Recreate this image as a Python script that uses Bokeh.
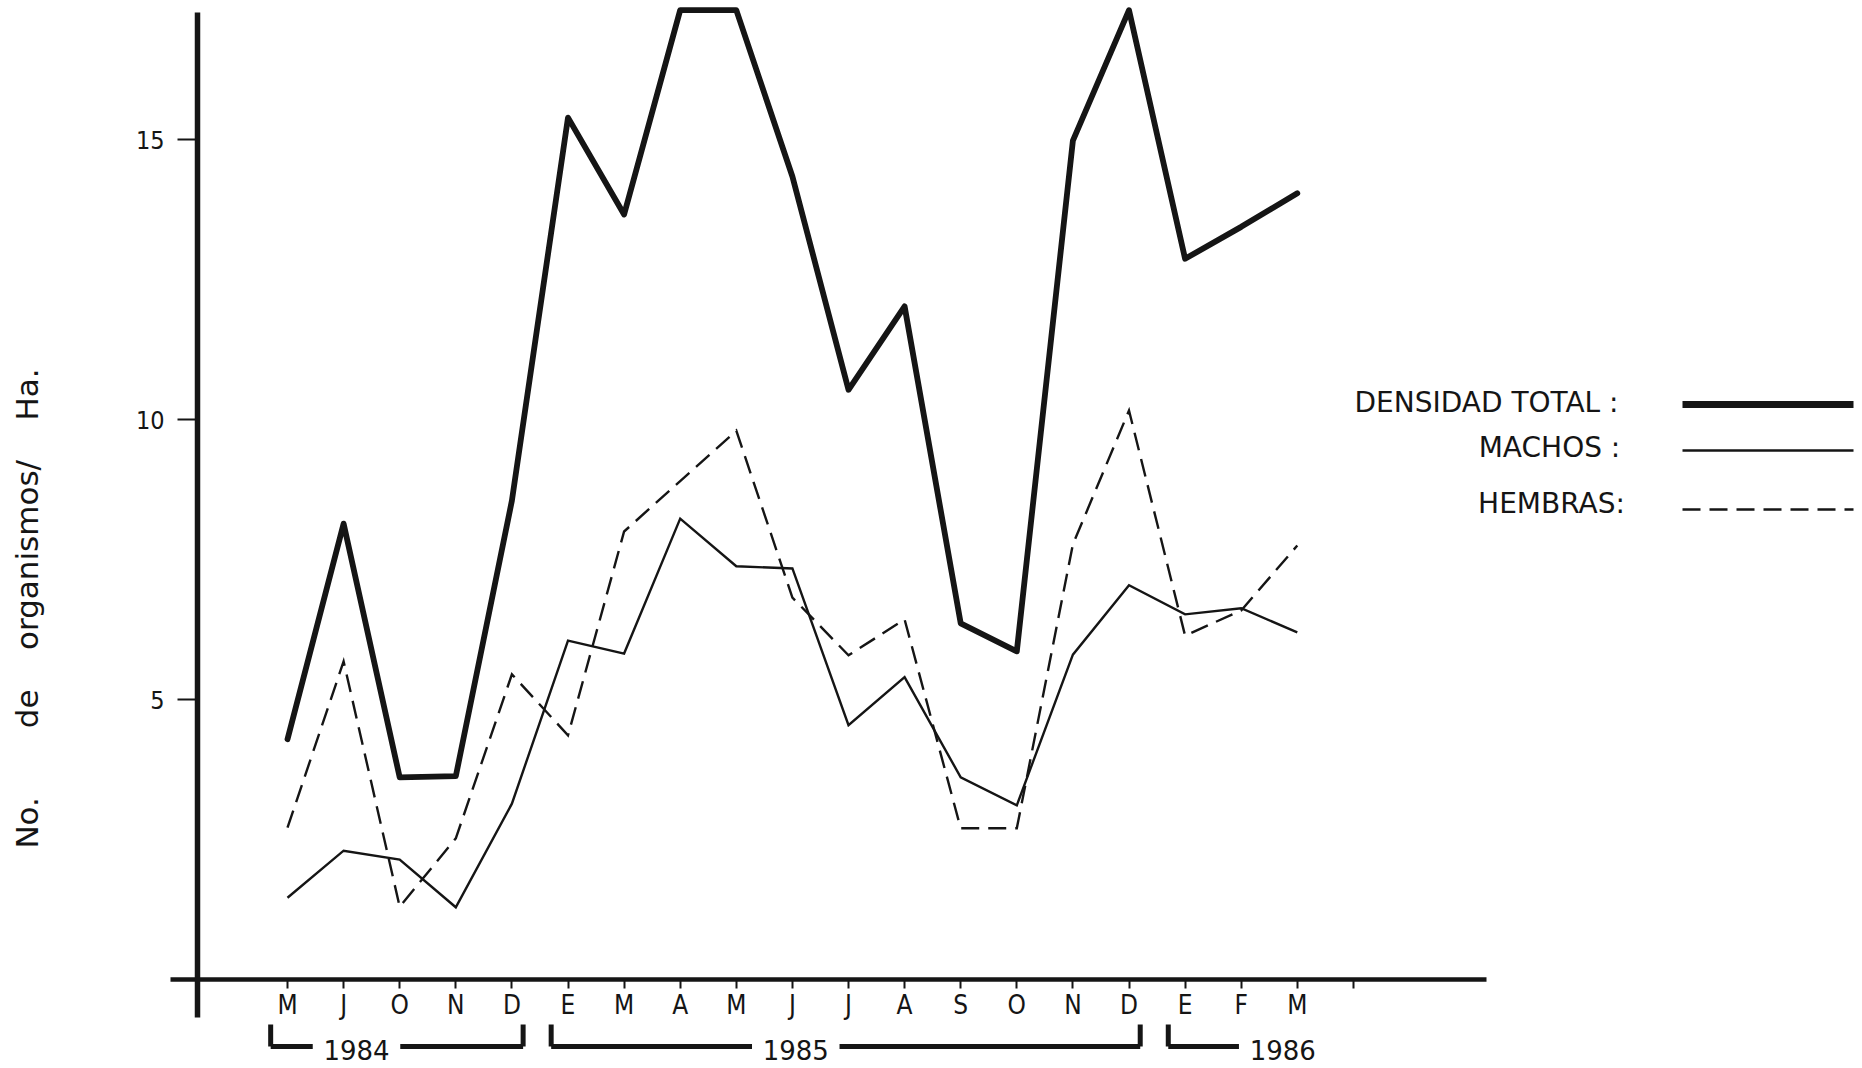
import math
from bokeh.plotting import figure
from bokeh.models import Range1d, FixedTicker, Label, Arrow
from bokeh.embed import file_html
from bokeh.resources import INLINE

# ---------------- data ----------------
months = ["M", "J", "O", "N", "D", "E", "M", "A", "M", "J", "J", "A", "S", "O", "N", "D", "E", "F", "M"]
total = [4.29, 8.14, 3.61, 3.63, 8.55, 15.39, 13.66, 17.31, 17.31, 14.34, 10.53, 12.02,
         6.36, 5.86, 14.98, 17.31, 12.87, 13.44, 14.04]
machos = [1.46, 2.30, 2.14, 1.29, 3.14, 6.05, 5.82, 8.23, 7.38, 7.34, 4.54, 5.40,
          3.61, 3.11, 5.80, 7.04, 6.52, 6.63, 6.20]
hembras = [2.71, 5.68, 1.30, 2.52, 5.45, 4.36, 8.00, 8.90, 9.80, 6.82, 5.79, 6.43,
           2.70, 2.70, 7.77, 10.16, 6.14, 6.59, 7.75]
y_ticks = [5, 10, 15]
years = ["1984", "1985", "1986"]
year_first = [0, 5, 16]
year_last = [4, 15, 18]
series_names = ["DENSIDAD TOTAL :", "MACHOS :", "HEMBRAS:"]
NB = "\u00a0"
y_title = "No." + NB * 7 + "de" + NB * 4 + "organismos/" + NB * 4 + "Ha."

# ---------------- layout (canvas pixels) ----------------
W, H = 1860, 1066
X0, DX = 287.0, 56.1      # canvas x of first month, px per month
Y0, DY = 979.0, 56.0      # canvas y of value 0, px per unit


def cx(px):
    return (px - X0) / DX


def cy(py):
    return (Y0 - py) / DY


INK = "#151515"
COND = "'DejaVu Sans Condensed', 'Liberation Sans Narrow', 'DejaVu Sans'"
FONT = "'DejaVu Sans'"

x_idx = list(range(len(months)))

p = figure(width=W, height=H, output_backend="svg", toolbar_location=None,
           x_range=Range1d(cx(0), cx(W)), y_range=Range1d(cy(H), cy(0)),
           min_border=0, min_border_left=0, min_border_right=0,
           min_border_top=0, min_border_bottom=0)
p.outline_line_color = None
p.grid.visible = False
p.background_fill_color = "white"
p.border_fill_color = "white"

# ---- axes (ticks & labels from bokeh, placed at fixed locations) ----
yaxis_x = cx(197)
p.xaxis.fixed_location = 0
p.yaxis.fixed_location = yaxis_x
for ax in (p.xaxis, p.yaxis):
    ax.axis_line_color = None
    ax.minor_tick_line_color = None
    ax.major_tick_line_color = INK
    ax.major_tick_line_width = 2
    ax.major_tick_in = 0
    ax.major_label_text_color = INK
    ax.major_label_text_font = COND

p.xaxis.ticker = FixedTicker(ticks=list(range(len(months) + 1)))
overrides = {i: m for i, m in enumerate(months)}
overrides[len(months)] = ""
p.xaxis.major_label_overrides = overrides
p.xaxis.major_tick_out = 9
p.xaxis.major_label_standoff = 1
p.xaxis.major_label_text_font_size = "26px"

p.yaxis.ticker = FixedTicker(ticks=y_ticks)
p.yaxis.major_tick_out = 20
p.yaxis.major_label_standoff = 13
p.yaxis.major_label_text_font_size = "25px"

# axis lines
p.add_layout(Arrow(end=None, x_start=cx(170), y_start=0, x_end=cx(1486), y_end=0,
                   line_color=INK, line_width=4.5))
p.add_layout(Arrow(end=None, x_start=yaxis_x, y_start=cy(1017), x_end=yaxis_x, y_end=cy(12),
                   line_color=INK, line_width=5.5))

# ---- series ----
p.line(x_idx, total, line_color=INK, line_width=5.8, line_join="round", line_cap="round")
p.line(x_idx, machos, line_color=INK, line_width=2.4, line_join="miter")
p.line(x_idx, hembras, line_color=INK, line_width=2.4, line_dash="18 9", line_join="miter")

# ---- year brackets ----
year_text_idx = [1.23, 9.06, 17.74]
b_top, b_bot = cy(1024), cy(1046)
for yr, f, l, tx in zip(years, year_first, year_last, year_text_idx):
    left = f - 0.3
    p.add_layout(Arrow(end=None, x_start=left, y_start=b_top, x_end=left, y_end=b_bot,
                       line_color=INK, line_width=5))
    p.add_layout(Arrow(end=None, x_start=left, y_start=b_bot, x_end=tx - 0.78, y_end=b_bot,
                       line_color=INK, line_width=5))
    if yr != years[-1]:
        right = l + 0.2
        p.add_layout(Arrow(end=None, x_start=tx + 0.78, y_start=b_bot, x_end=right, y_end=b_bot,
                           line_color=INK, line_width=5))
        p.add_layout(Arrow(end=None, x_start=right, y_start=b_bot, x_end=right, y_end=b_top,
                           line_color=INK, line_width=5))
    p.add_layout(Label(x=tx, y=cy(1049), text=yr, text_align="center", text_baseline="middle",
                       text_font=FONT, text_font_size="26px", text_color=INK))

# ---- legend ----
leg_text = [(1486, 402), (1549, 447), (1551, 503)]
leg_line_y = [404, 450, 509]
leg_w = [7, 2.5, 2.3]
leg_dash = ["solid", "solid", "18 9"]
for name, (tx, ty), ly, lw, ld in zip(series_names, leg_text, leg_line_y, leg_w, leg_dash):
    p.add_layout(Label(x=cx(tx), y=cy(ty), text=name, text_align="center", text_baseline="middle",
                       text_font=FONT, text_font_size="28px", text_color=INK))
    p.add_layout(Arrow(end=None, x_start=cx(1682), y_start=cy(ly), x_end=cx(1853), y_end=cy(ly),
                       line_color=INK, line_width=lw, line_dash=ld))

# ---- y title ----
p.add_layout(Label(x=cx(26), y=cy(608), text=y_title, angle=math.pi / 2,
                   text_align="center", text_baseline="middle",
                   text_font=FONT, text_font_size="31px", text_color=INK))

open("out.html", "w").write(file_html(p, INLINE))
